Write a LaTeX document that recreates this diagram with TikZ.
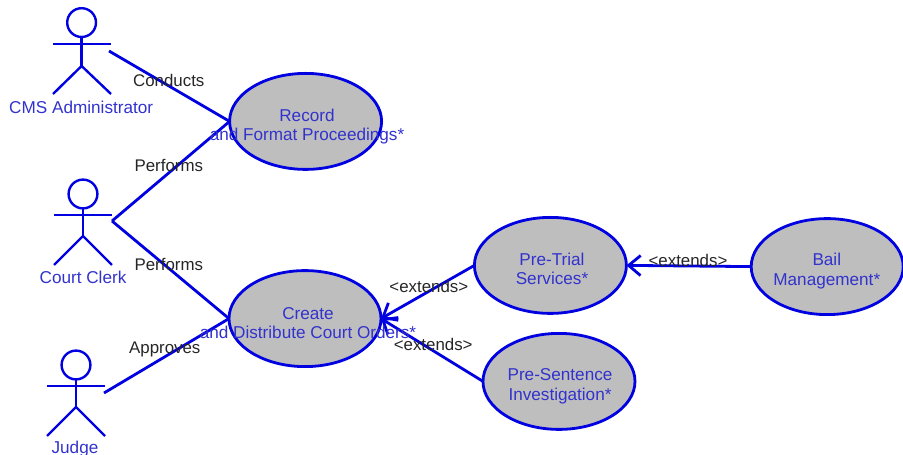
\documentclass[tikz,border=0pt]{standalone}
\usepackage{fontspec}
\setmainfont{Liberation Sans}
\usetikzlibrary{arrows.meta,shapes.geometric}

\definecolor{umlblue}{RGB}{0,0,225}
\definecolor{umltext}{RGB}{50,50,205}
\definecolor{umlgray}{RGB}{190,190,190}

\tikzset{
    usecase/.style={draw=umlblue, fill=umlgray, ellipse, line width=0.07cm, inner sep=0pt, outer sep=0pt, minimum width=3.8cm, minimum height=2.4cm},
    usetext/.style={text=umltext, align=center, font=\fontsize{12.2}{14}\selectfont, inner sep=0pt},
    actorline/.style={draw=umlblue, line width=0.06cm},
    link/.style={draw=umlblue, line width=0.07cm},
    extendlink/.style={link, -{Straight Barb[length=0.3cm, width=0.5cm]}},
    linklabel/.style={text=black!85, font=\fontsize{12}{14}\selectfont, inner sep=0pt},
}

\begin{document}
\begin{tikzpicture}
    \useasboundingbox (0, 0) rectangle (22.575, 11.375);

    % CMS Administrator
    \draw[actorline] (2.04, 10.81) circle (0.36); % Head
    \draw[actorline] (1.325, 10.275) -- (2.775, 10.275); % Arms
    \draw[actorline] (2.04, 10.45) -- (2.04, 9.725); % Body
    \draw[actorline] (1.325, 9.025) -- (2.04, 9.725) -- (2.775, 9.025); % Legs
    \node[usetext] (cmsname) at (2.03, 8.7) {CMS Administrator};
    \coordinate (cmshand) at (2.725, 10.1);

    % Court Clerk
    \draw[actorline] (2.075, 6.525) circle (0.36); % Head
    \draw[actorline] (1.35, 6) -- (2.8, 6); % Arms
    \draw[actorline] (2.075, 6.165) -- (2.075, 5.475); % Body
    \draw[actorline] (1.35, 4.75) -- (2.075, 5.475) -- (2.8, 4.75); % Legs
    \node[usetext] (clerkname) at (2.075, 4.45) {Court Clerk};
    \coordinate (clerkhand) at (2.8, 5.85);

    % Judge
    \draw[actorline] (1.9, 2.25) circle (0.36); % Head
    \draw[actorline] (1.175, 1.725) -- (2.625, 1.725); % Arms
    \draw[actorline] (1.9, 1.89) -- (1.9, 1.2); % Body
    \draw[actorline] (1.175, 0.475) -- (1.9, 1.2) -- (2.625, 0.475); % Legs
    \node[usetext] (judgename) at (1.875, 0.16) {Judge};
    \coordinate (judgehand) at (2.6, 1.55);

    % Use cases
    \node[usecase] (record) at (7.64, 8.34) {};
    \node[usecase] (create) at (7.625, 3.41) {};
    \node[usecase] (pretrial) at (13.76, 4.74) {};
    \node[usecase] (bail) at (20.68, 4.71) {};
    \node[usecase] (presentence) at (13.975, 1.84) {};

    % Actors to use cases
    \draw[link] (cmshand) -- (record.west);
    \draw[link] (clerkhand) -- (record.west);
    \draw[link] (clerkhand) -- (create.west);
    \draw[link] (judgehand) -- (create.west);

    % Extensions
    \draw[extendlink] (pretrial.west) -- (create.east);
    \draw[extendlink] (presentence.west) -- (create.east);
    \draw[extendlink] (bail.west) -- (pretrial.east);

    % Use case texts
    \node[usetext] (recordtext) at (7.675, 8.21) {Record\\and Format Proceedings*};
    \node[usetext] (createtext) at (7.7, 3.3) {Create\\and Distribute Court Orders*};
    \node[usetext] (pretrialtext) at (13.8, 4.655) {Pre-Trial\\Services*};
    \node[usetext] (bailtext) at (20.67, 4.6) {Bail\\Management*};
    \node[usetext] (presentencetext) at (14.0, 1.71) {Pre-Sentence\\Investigation*};

    % Link labels
    \node[linklabel] (conducts) at (4.22, 9.37) {Conducts};
    \node[linklabel] (performsrecord) at (4.22, 7.25) {Performs};
    \node[linklabel] (performscreate) at (4.22, 4.77) {Performs};
    \node[linklabel] (approves) at (4.12, 2.63) {Approves};
    \node[linklabel] (extendspretrial) at (10.72, 4.22) {<extends>};
    \node[linklabel] (extendspresentence) at (10.83, 2.77) {<extends>};
    \node[linklabel] (extendsbail) at (17.2, 4.87) {<extends>};
\end{tikzpicture}
\end{document}
